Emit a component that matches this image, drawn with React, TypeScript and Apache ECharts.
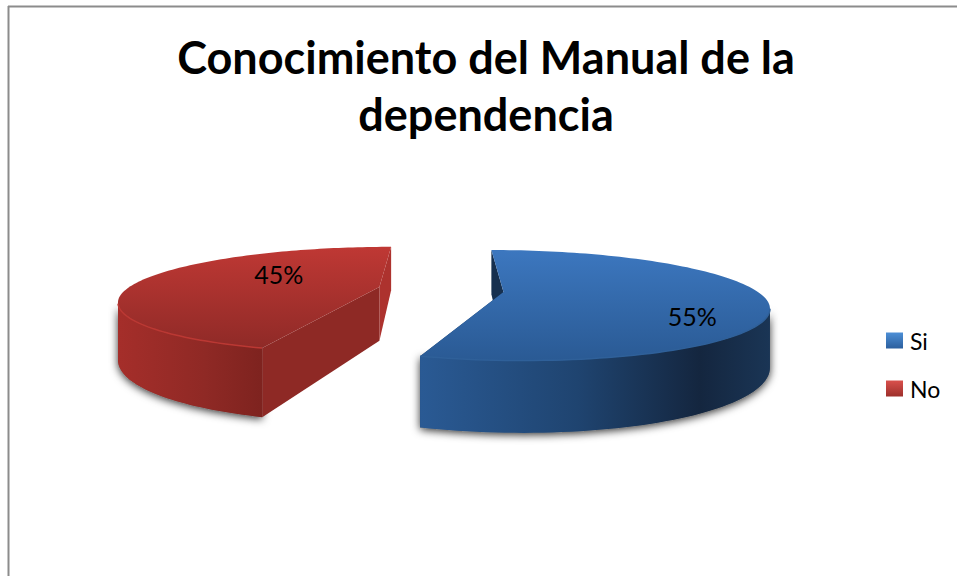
import React, { useEffect, useRef } from "react";
import * as echarts from "echarts";

const titleLines = ["Conocimiento del Manual de la", "dependencia"];
const categories = ["Si", "No"];
const values = [55, 45];

const FONT = "Lato, Carlito, 'Open Sans', sans-serif";
const total = values.reduce((a, b) => a + b, 0);

// perspective camera of the tilted pie
const VANISH_X = 441;
const HORIZON_Y = 75;
const DEPTH_H = 217;
const PERSPECTIVE = 0.24;
const WALL = 55;

type Look = {
  originX: number;
  originZ: number;
  radius: number;
  labelU: number;
  labelV: number;
  top: [string, string];
  rim: [string, number][];
  startCut: string;
  endCut: string;
  edge: string;
  legend: [string, string];
};

const looks: Look[] = [
  {
    originX: 62.5,
    originZ: 0,
    radius: 254.5,
    labelU: 0.645,
    labelV: -0.41,
    top: ["#3c77bf", "#2a5a94"],
    rim: [
      [0, "#2a5a94"],
      [0.45, "#1f4470"],
      [0.8, "#14263f"],
      [1, "#1a3555"],
    ],
    startCut: "#16304f",
    endCut: "#1e3f68",
    edge: "#2f6099",
    legend: ["#4d8fd6", "#2b5f9e"],
  },
  {
    originX: -63,
    originZ: 0.096,
    radius: 256,
    labelU: -0.445,
    labelV: 0.28,
    top: ["#bf3834", "#8f2a27"],
    rim: [
      [0, "#a52e2a"],
      [0.6, "#8f2925"],
      [1, "#7e231f"],
    ],
    startCut: "#8e2925",
    endCut: "#ad322e",
    edge: "#bb3833",
    legend: ["#d9504c", "#9d2f2b"],
  },
];

function project(look: Look, u: number, v: number) {
  const s = 1 / (1 + PERSPECTIVE * (look.originZ + v));
  const X = look.originX + look.radius * u;
  return { x: VANISH_X + X * s, y: HORIZON_Y + DEPTH_H * s, s };
}

function down(p: { x: number; y: number; s: number }) {
  return [p.x, p.y + WALL * p.s];
}

function sliceGroup(index: number, value: number) {
  const look = looks[index];
  const before = values.slice(0, index).reduce((a, b) => a + b, 0);
  const a0 = (before / total) * Math.PI * 2;
  const a1 = ((before + value) / total) * Math.PI * 2;
  const apex = project(look, 0, 0);
  const arc: { x: number; y: number; s: number; a: number }[] = [];
  const steps = 120;
  for (let i = 0; i <= steps; i++) {
    const a = a0 + ((a1 - a0) * i) / steps;
    arc.push({ ...project(look, Math.sin(a), Math.cos(a)), a });
  }
  const first = arc[0];
  const last = arc[arc.length - 1];
  // the side wall is visible only where the rim runs leftwards along the near side
  const front = arc.filter((p, i) => {
    const next = arc[i + 1];
    const prev = arc[i - 1];
    return next ? next.x < p.x : prev ? p.x < prev.x : false;
  });
  const frontTop = front.map((p) => [p.x, p.y]);
  const frontBottom = front.map(down).reverse();
  const rimPoints = [...frontTop, ...frontBottom];

  const wall = (p: { x: number; y: number; s: number }, fill: string) => ({
    type: "polygon",
    shape: { points: [[apex.x, apex.y], [p.x, p.y], down(p), down(apex)] },
    style: { fill },
  });

  const label = project(look, look.labelU, look.labelV);
  return {
    type: "group",
    children: [
      {
        type: "polygon",
        shape: { points: rimPoints },
        style: {
          fill: "#777777",
          shadowColor: "rgba(0,0,0,0.8)",
          shadowBlur: 9,
          shadowOffsetY: 2,
        },
      },
      wall(last, look.endCut),
      wall(first, look.startCut),
      {
        type: "polygon",
        shape: { points: rimPoints },
        style: {
          fill: new echarts.graphic.LinearGradient(
            0,
            0,
            1,
            0,
            look.rim.map(([offset, color]) => ({ offset, color }))
          ),
        },
      },
      {
        type: "polygon",
        shape: { points: [[apex.x, apex.y], ...arc.map((p) => [p.x, p.y])] },
        style: {
          fill: new echarts.graphic.LinearGradient(0, 0, 0, 1, [
            { offset: 0, color: look.top[0] },
            { offset: 1, color: look.top[1] },
          ]),
        },
      },
      {
        type: "polyline",
        shape: { points: frontTop },
        style: { fill: "none", stroke: look.edge, lineWidth: 1.5 },
      },
      {
        type: "text",
        style: {
          text: `${Math.round((value / total) * 100)}%`,
          x: label.x,
          y: label.y,
          fill: "#000000",
          font: `25px ${FONT}`,
          textAlign: "center",
          textVerticalAlign: "middle",
        },
      },
    ],
  };
}

export default function App() {
  const ref = useRef<HTMLDivElement>(null);
  useEffect(() => {
    if (!ref.current) return;
    const chart = echarts.init(ref.current, undefined, { renderer: "svg" });
    chart.setOption({
      animation: false,
      backgroundColor: "#ffffff",
      title: {
        text: titleLines.join("\n"),
        left: 481,
        top: 23,
        textAlign: "center",
        textStyle: {
          fontFamily: FONT,
          fontWeight: "bold",
          fontSize: 45,
          lineHeight: 57,
          color: "#000000",
        },
      },
      legend: {
        orient: "vertical",
        left: 881,
        top: 324,
        itemWidth: 17,
        itemHeight: 16,
        itemGap: 25,
        icon: "rect",
        textStyle: { fontFamily: FONT, fontSize: 23, color: "#000000", padding: [0, 0, 0, 2] },
        data: categories.map((name, i) => ({
          name,
          itemStyle: {
            color: new echarts.graphic.LinearGradient(0, 0, 0, 1, [
              { offset: 0, color: looks[i].legend[0] },
              { offset: 1, color: looks[i].legend[1] },
            ]),
          },
        })),
      },
      graphic: [
        { type: "line", shape: { x1: 8, y1: 6.5, x2: 957, y2: 6.5 }, style: { stroke: "#8c8c8c", lineWidth: 2 } },
        { type: "line", shape: { x1: 8.5, y1: 6, x2: 8.5, y2: 576 }, style: { stroke: "#8c8c8c", lineWidth: 2 } },
      ],
      series: categories.map((name, i) => ({
        type: "custom",
        name,
        coordinateSystem: "none",
        itemStyle: { color: looks[i].top[0] },
        data: [values[i]],
        renderItem: (_p: unknown, api: { value: (d: number) => number }) => sliceGroup(i, api.value(0)),
      })),
    });
    return () => chart.dispose();
  }, []);
  return <div ref={ref} style={{ position: "fixed", left: 0, top: 0, width: 957, height: 576 }} />;
}
